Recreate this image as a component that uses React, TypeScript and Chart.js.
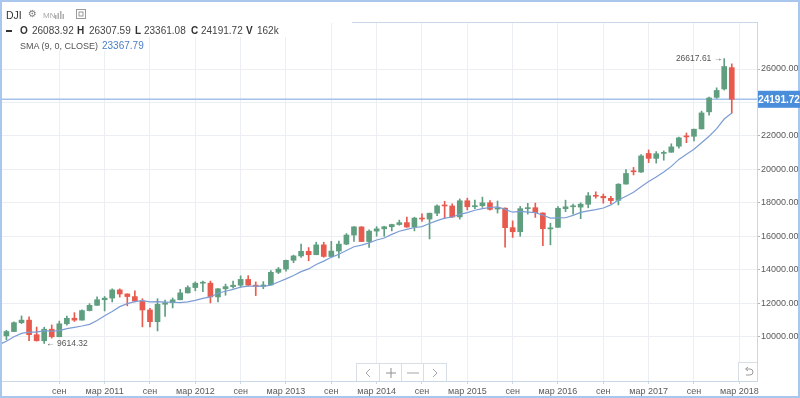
import React, { useEffect, useRef } from "react";
import { Chart, registerables } from "chart.js";

Chart.register(...registerables);

const months = [
  "2010-01","2010-02","2010-03","2010-04","2010-05","2010-06","2010-07","2010-08","2010-09","2010-10","2010-11","2010-12",
  "2011-01","2011-02","2011-03","2011-04","2011-05","2011-06","2011-07","2011-08","2011-09","2011-10","2011-11","2011-12",
  "2012-01","2012-02","2012-03","2012-04","2012-05","2012-06","2012-07","2012-08","2012-09","2012-10","2012-11","2012-12",
  "2013-01","2013-02","2013-03","2013-04","2013-05","2013-06","2013-07","2013-08","2013-09","2013-10","2013-11","2013-12",
  "2014-01","2014-02","2014-03","2014-04","2014-05","2014-06","2014-07","2014-08","2014-09","2014-10","2014-11","2014-12",
  "2015-01","2015-02","2015-03","2015-04","2015-05","2015-06","2015-07","2015-08","2015-09","2015-10","2015-11","2015-12",
  "2016-01","2016-02","2016-03","2016-04","2016-05","2016-06","2016-07","2016-08","2016-09","2016-10","2016-11","2016-12",
  "2017-01","2017-02","2017-03","2017-04","2017-05","2017-06","2017-07","2017-08","2017-09","2017-10","2017-11","2017-12",
  "2018-01","2018-02",
];

const opens = [
  10428, 10067, 10325, 10857, 11009, 10137, 9774, 10466, 10016, 10789, 11121, 11007,
  11577, 11892, 12226, 12321, 12811, 12569, 12412, 12143, 11614, 10912, 11955, 12046,
  12221, 12632, 12952, 13213, 13214, 12391, 12879, 13009, 13092, 13438, 13094, 13026,
  13104, 13861, 14054, 14580, 14840, 15116, 14911, 15500, 14801, 15132, 15545, 16086,
  16572, 15699, 16322, 16458, 16581, 16716, 16828, 16561, 17099, 17041, 17391, 17827,
  17823, 17169, 18134, 17776, 17841, 18012, 17638, 17690, 16528, 16285, 17663, 17719,
  17406, 16452, 16546, 17662, 17774, 17755, 17925, 18434, 18397, 18279, 18158, 19130,
  19872, 19848, 20957, 20665, 20962, 21030, 21392, 21962, 21982, 22424, 23442, 24305,
  24809, 26083.92,
];

const highs = [
  10730, 10402, 10908, 11258, 11205, 10595, 10586, 10720, 10948, 11247, 11452, 11625,
  11990, 12391, 12419, 12876, 12876, 12580, 12753, 12284, 11717, 12284, 12208, 12330,
  12842, 13055, 13290, 13339, 13339, 12898, 13159, 13331, 13653, 13662, 13290, 13306,
  13970, 14150, 14585, 14888, 15542, 15340, 15658, 15653, 15710, 15722, 16175, 16589,
  16589, 16398, 16588, 16615, 16736, 16978, 17152, 17153, 17350, 17395, 17895, 18104,
  17951, 18244, 18289, 18175, 18351, 18137, 18120, 17716, 16933, 17799, 17978, 17996,
  17406, 16795, 17790, 18168, 17934, 18016, 18623, 18668, 18534, 18400, 19152, 19988,
  20125, 20892, 21169, 21071, 21112, 21535, 21930, 22179, 22420, 23485, 24327, 24876,
  26617.61, 26307.59,
];

const lows = [
  10068, 9835, 10316, 10793, 9774, 9758, 9614.32, 9936, 10010, 10711, 10929, 11006,
  11556, 11892, 11555, 12093, 12381, 11862, 12093, 10604, 10597, 10362, 11231, 11735,
  12221, 12627, 12758, 12710, 12035, 12101, 12492, 12916, 12978, 13052, 12471, 12883,
  13104, 13784, 13937, 14434, 14746, 14551, 14911, 14760, 14777, 14720, 15509, 15704,
  15699, 15341, 16016, 16015, 16333, 16674, 16563, 16333, 16901, 15855, 17240, 17068,
  17136, 17038, 17585, 17661, 17736, 17576, 17400, 15370, 15942, 16013, 17336, 17139,
  15451, 15503, 16546, 17484, 17331, 17063, 17713, 18289, 17992, 17959, 17884, 19130,
  19678, 19831, 20412, 20379, 20554, 21030, 21279, 21600, 21709, 22416, 23242, 24242,
  24742, 23361.08,
];

const closes = [
  10067.33, 10325.26, 10856.63, 11008.61, 10136.63, 9774.02, 10465.94, 10014.72, 10788.05, 11118.49, 11006.02, 11577.51,
  11891.93, 12226.34, 12319.73, 12810.54, 12569.79, 12414.34, 12143.24, 11613.53, 10913.38, 11955.01, 12045.68, 12217.56,
  12632.91, 12952.07, 13212.04, 13213.63, 12393.45, 12880.09, 13008.68, 13090.84, 13437.13, 13096.46, 13025.58, 13104.14,
  13860.58, 14054.49, 14578.54, 14839.8, 15115.57, 14909.6, 15499.54, 14810.31, 15129.67, 15545.75, 16086.41, 16576.66,
  15698.85, 16321.71, 16457.66, 16580.84, 16717.17, 16826.6, 16563.3, 17098.45, 17042.9, 17390.52, 17828.24, 17823.07,
  17164.95, 18132.7, 17776.12, 17840.52, 18010.68, 17619.51, 17689.86, 16528.03, 16284.7, 17663.54, 17719.92, 17425.03,
  16466.3, 16516.5, 17685.09, 17773.64, 17787.2, 17929.99, 18432.24, 18400.88, 18308.15, 18142.42, 19123.58, 19762.6,
  19864.09, 20812.24, 20663.22, 20940.51, 21008.65, 21349.63, 21891.12, 21948.1, 22405.09, 23377.24, 24272.35, 24719.22,
  26149.39, 24191.72,
];

const sma9 = [
  9542, 9745, 10013, 10217, 10288, 10295, 10379, 10342, 10382, 10499, 10574, 10655,
  10753, 10985, 11268, 11528, 11812, 11993, 12107, 12174, 12100, 12107, 12087, 12076,
  12056, 12099, 12187, 12306, 12393, 12611, 12729, 12845, 12980, 13032, 13040, 13028,
  13100, 13284, 13473, 13676, 13901, 14065, 14332, 14530, 14756, 14943, 15169, 15391,
  15486, 15620, 15792, 15912, 16124, 16313, 16426, 16538, 16590, 16778, 16945, 17097,
  17162, 17319, 17424, 17566, 17668, 17732, 17765, 17621, 17450, 17505, 17459, 17420,
  17268, 17102, 17109, 17118, 17258, 17441, 17526, 17602, 17700, 17886, 18176, 18407,
  18639, 18975, 19279, 19558, 19847, 20185, 20602, 20916, 21209, 21600, 21984, 22435,
  23013, 23367.79,
];

const xTickMonths = [
  "2010-09","2011-03","2011-09","2012-03","2012-09","2013-03","2013-09","2014-03",
  "2014-09","2015-03","2015-09","2016-03","2016-09","2017-03","2017-09","2018-03",
];
const xTickLabels = [
  "сен","мар 2011","сен","мар 2012","сен","мар 2013","сен","мар 2014",
  "сен","мар 2015","сен","мар 2016","сен","мар 2017","сен","мар 2018",
];
const yTicks = [10000, 12000, 14000, 16000, 18000, 20000, 22000, 24000, 26000];

const headerValues = { o: "26083.92", h: "26307.59", l: "23361.08", c: "24191.72", v: "162k" };
const smaLabel = "SMA (9, 0, CLOSE)";
const smaLast = "23367.79";

const GREEN = "#5f9f80";
const RED = "#e85a4e";
const FONT = "'Liberation Sans', Arial, sans-serif";
const GRID = "#ebeef2";
const FRAME = "#cad7e6";

const monthIndex = (m: string) => {
  const [y, mo] = m.split("-").map(Number);
  return (y - 2010) * 12 + (mo - 1);
};

export default function App() {
  const ref = useRef<HTMLCanvasElement>(null);

  useEffect(() => {
    const canvas = ref.current!;
    const xs = months.map(monthIndex);
    const colors = closes.map((c, i) => (c >= opens[i] ? GREEN : RED));
    const tickVals = xTickMonths.map(monthIndex);
    const last = closes[closes.length - 1];

    let hiIdx = 0;
    let loIdx = 0;
    highs.forEach((h, i) => { if (h > highs[hiIdx]) hiIdx = i; });
    lows.forEach((l, i) => { if (l < lows[loIdx]) loIdx = i; });

    const decor = {
      id: "decor",
      beforeDraw(chart: any) {
        const { ctx, width, height } = chart;
        ctx.save();
        ctx.fillStyle = "#ffffff";
        ctx.fillRect(0, 0, width, height);
        ctx.restore();
      },
      beforeDatasetsDraw(chart: any) {
        const { ctx, chartArea } = chart;
        const y = chart.scales.y.getPixelForValue(last);
        ctx.save();
        ctx.strokeStyle = "#a3c1ea";
        ctx.lineWidth = 1.5;
        ctx.beginPath();
        ctx.moveTo(0, y);
        ctx.lineTo(chartArea.right, y);
        ctx.stroke();
        ctx.restore();
      },
      afterDraw(chart: any) {
        const { ctx, chartArea, width, height } = chart;
        const xS = chart.scales.x;
        const yS = chart.scales.y;
        ctx.save();
        // plot top frame
        ctx.strokeStyle = FRAME;
        ctx.lineWidth = 1;
        ctx.beginPath();
        ctx.moveTo(0, Math.round(chartArea.top) + 0.5);
        ctx.lineTo(Math.round(chartArea.right) + 0.5, Math.round(chartArea.top) + 0.5);
        ctx.stroke();
        // outer frame
        ctx.strokeStyle = "#a9c7ec";
        ctx.lineWidth = 2;
        ctx.strokeRect(1, 1, width - 2, height - 2);
        // current price box
        const py = yS.getPixelForValue(last);
        ctx.fillStyle = "#4a8edb";
        ctx.fillRect(chartArea.right + 1, py - 8.5, width - chartArea.right - 1, 17);
        ctx.fillStyle = "#ffffff";
        ctx.font = `bold 10px ${FONT}`;
        ctx.textAlign = "center";
        ctx.textBaseline = "middle";
        ctx.fillText(last.toFixed(2), (chartArea.right + 1 + width) / 2, py + 0.5);
        // high / low annotations
        ctx.fillStyle = "#555555";
        ctx.font = `8.5px ${FONT}`;
        ctx.textAlign = "right";
        const hx = xS.getPixelForValue(monthIndex(months[hiIdx]));
        const hy = yS.getPixelForValue(highs[hiIdx]);
        ctx.fillText(highs[hiIdx].toFixed(2) + " →", hx - 2, hy);
        ctx.textAlign = "left";
        const lx = xS.getPixelForValue(monthIndex(months[loIdx]));
        const ly = yS.getPixelForValue(lows[loIdx]);
        ctx.fillText("← " + lows[loIdx].toFixed(2), lx + 2, ly + 0.5);
        ctx.restore();
      },
    };

    const chart = new Chart(canvas, {
      type: "bar",
      data: {
        datasets: [
          {
            type: "line",
            label: "SMA",
            data: xs.map((x, i) => ({ x, y: sma9[i] })),
            borderColor: "#7c9dd3",
            borderWidth: 1.2,
            pointRadius: 0,
            tension: 0,
            order: 0,
          } as any,
          {
            type: "bar",
            label: "body",
            data: xs.map((x, i) => ({ x, y: [opens[i], closes[i]] })),
            backgroundColor: colors,
            borderWidth: 0,
            barThickness: 5,
            minBarLength: 1,
            grouped: false,
            order: 1,
          } as any,
          {
            type: "bar",
            label: "wick",
            data: xs.map((x, i) => ({ x, y: [lows[i], highs[i]] })),
            backgroundColor: colors,
            borderWidth: 0,
            barThickness: 1,
            grouped: false,
            order: 2,
          } as any,
        ],
      },
      plugins: [decor],
      options: {
        responsive: false,
        animation: false,
        devicePixelRatio: 1,
        events: [],
        layout: { padding: { left: 2, top: 22, right: 0, bottom: 0 } },
        plugins: { legend: { display: false }, tooltip: { enabled: false } },
        scales: {
          x: {
            type: "linear",
            min: 0.416,
            max: 100.34,
            offset: false,
            position: "bottom",
            afterBuildTicks: (s: any) => {
              s.ticks = tickVals.map((v) => ({ value: v }));
            },
            afterFit: (s: any) => {
              s.height = 17;
            },
            ticks: {
              autoSkip: false,
              maxRotation: 0,
              minRotation: 0,
              padding: 2,
              color: "#5a5a5a",
              font: { family: FONT, size: 9 },
              callback: (v: any) => {
                const k = tickVals.indexOf(Number(v));
                return k >= 0 ? xTickLabels[k] : "";
              },
            },
            grid: { color: GRID, tickLength: 3, tickColor: FRAME, offset: false, drawTicks: true },
            border: { color: FRAME },
          },
          y: {
            type: "linear",
            position: "right",
            min: 7373,
            max: 28806,
            afterBuildTicks: (s: any) => {
              s.ticks = yTicks.map((v) => ({ value: v }));
            },
            afterFit: (s: any) => {
              s.width = 43;
            },
            ticks: {
              padding: 1,
              color: "#5a5a5a",
              font: { family: FONT, size: 9 },
              callback: (v: any) => Number(v).toFixed(2),
            },
            grid: { color: GRID, tickLength: 3, tickColor: "#b5b5b5" },
            border: { color: FRAME },
          },
        },
      } as any,
    });
    return () => chart.destroy();
  }, []);

  const txt = (left: number, top: number, s: string, extra: any = {}) => (
    <span
      style={{
        position: "absolute",
        left,
        top,
        fontFamily: FONT,
        fontSize: 10,
        lineHeight: "12px",
        color: "#444",
        whiteSpace: "nowrap",
        ...extra,
      }}
    >
      {s}
    </span>
  );
  const bold = { fontWeight: "bold", color: "#333" };
  const bg = (left: number, top: number, width: number, height: number) => (
    <div style={{ position: "absolute", left, top, width, height, background: "#fff" }} />
  );

  const btn = (left: number, icon: React.ReactNode) => (
    <div
      style={{
        position: "absolute",
        left,
        top: 0,
        width: 22,
        height: 17,
        borderLeft: left > 0 ? "1px solid #d7dee6" : "none",
        display: "flex",
        alignItems: "center",
        justifyContent: "center",
      }}
    >
      {icon}
    </div>
  );

  return (
    <div style={{ position: "absolute", left: 0, top: 0, width: 800, height: 398, overflow: "hidden" }}>
      <canvas ref={ref} width={800} height={398} style={{ display: "block", width: 800, height: 398 }} />
      {/* header backgrounds */}
      {bg(2, 2, 350, 21)}
      {bg(2, 23, 284, 14)}
      {bg(2, 37, 144, 14)}
      {/* header line 1 */}
      {txt(6, 9, "DJI", { fontSize: 10.5, color: "#333" })}
      {txt(28, 8, "⚙", { fontFamily: "'DejaVu Sans', sans-serif", fontSize: 10, color: "#7a7a7a" })}
      {txt(43, 10, "MN", { fontSize: 8, color: "#a8a8a8" })}
      <svg style={{ position: "absolute", left: 55, top: 10 }} width={9} height={9}>
        <rect x={0} y={5} width={1.5} height={4} fill="#b0b0b0" />
        <rect x={2.5} y={3} width={1.5} height={6} fill="#b0b0b0" />
        <rect x={5} y={1} width={1.5} height={8} fill="#b0b0b0" />
        <rect x={7.5} y={4} width={1.5} height={5} fill="#b0b0b0" />
      </svg>
      <svg style={{ position: "absolute", left: 76, top: 9 }} width={11} height={11}>
        <rect x={0.5} y={0.5} width={9} height={9} fill="none" stroke="#9a9a9a" />
        <rect x={3} y={3} width={4} height={4} fill="none" stroke="#9a9a9a" />
      </svg>
      {/* header line 2 */}
      <div style={{ position: "absolute", left: 6, top: 30, width: 6, height: 2, background: "#333" }} />
      {txt(20, 25, "O", bold)}
      {txt(32, 25, headerValues.o)}
      {txt(77, 25, "H", bold)}
      {txt(89, 25, headerValues.h)}
      {txt(135, 25, "L", bold)}
      {txt(144, 25, headerValues.l)}
      {txt(191, 25, "C", bold)}
      {txt(201, 25, headerValues.c)}
      {txt(246, 25, "V", bold)}
      {txt(257, 25, headerValues.v)}
      {/* header line 3 */}
      {txt(20, 40, smaLabel, { fontSize: 9, color: "#555" })}
      {txt(102, 40, smaLast, { color: "#4a7fc7" })}
      {/* navigation buttons */}
      <div
        style={{
          position: "absolute",
          left: 356,
          top: 363,
          width: 89,
          height: 17,
          border: "1px solid #d7dee6",
          borderBottom: "none",
          background: "#fff",
          boxSizing: "content-box",
        }}
      >
        {btn(0, <svg width={8} height={10}><polyline points="6,1 2,5 6,9" fill="none" stroke="#a5a5a5" strokeWidth={1} /></svg>)}
        {btn(22, <svg width={10} height={10}><line x1={5} y1={0} x2={5} y2={10} stroke="#8f8f8f" /><line x1={0} y1={5} x2={10} y2={5} stroke="#8f8f8f" /></svg>)}
        {btn(44, <svg width={12} height={10}><line x1={0} y1={5} x2={12} y2={5} stroke="#a5a5a5" /></svg>)}
        {btn(66, <svg width={8} height={10}><polyline points="2,1 6,5 2,9" fill="none" stroke="#a5a5a5" strokeWidth={1} /></svg>)}
      </div>
      {/* reset button */}
      <div
        style={{
          position: "absolute",
          left: 738,
          top: 362,
          width: 18,
          height: 18,
          border: "1px solid #d7dee6",
          borderBottom: "none",
          borderRight: "none",
          background: "#fff",
          display: "flex",
          alignItems: "center",
          justifyContent: "center",
        }}
      >
        <svg width={11} height={10}>
          <path d="M3 2 H7 A3 3 0 0 1 7 8 H3" fill="none" stroke="#9a9a9a" strokeWidth={1} />
          <polyline points="5,0 2.5,2 5,4" fill="none" stroke="#9a9a9a" strokeWidth={1} />
        </svg>
      </div>
      {/* outer frame on top of overlays */}
      <div
        style={{
          position: "absolute",
          left: 0,
          top: 0,
          width: 800,
          height: 398,
          boxSizing: "border-box",
          borderTop: "2px solid #a9c7ec",
          borderLeft: "2px solid #a9c7ec",
          pointerEvents: "none",
        }}
      />
    </div>
  );
}
